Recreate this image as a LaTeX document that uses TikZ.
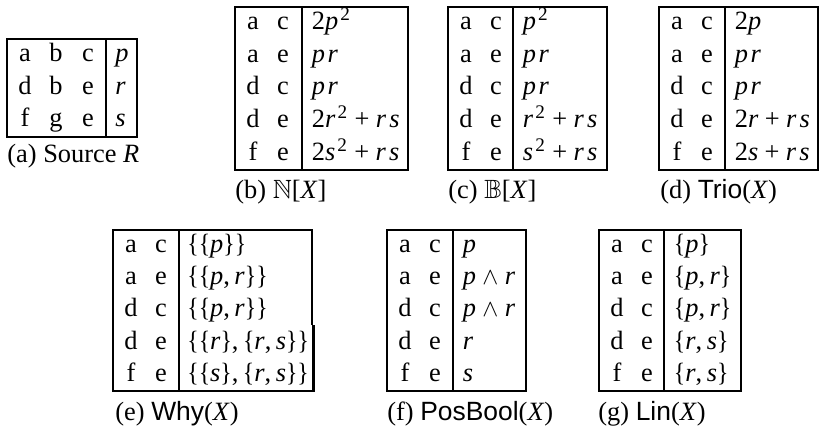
\documentclass[tikz,border=0pt]{standalone}
\usepackage{graphicx}
\usepackage{amssymb}
\usepackage{fontspec}
\setmainfont{Liberation Serif}
\setsansfont{Liberation Sans}
\newcommand\mi[1]{\textit{#1}}
\newcommand\sq{\kern.08em\raisebox{.34em}{\fontsize{9.6}{10}\selectfont 2}\kern.04em}
\newcommand\pl{\hspace{.24em}+\hspace{.24em}}
\newcommand\ww{\hspace{.24em}\(\wedge\)\hspace{.24em}}
\newcommand\cm{,\hspace{.17em}}
\newcommand\lb{\scalebox{.9}[1]{\{}}
\newcommand\rb{\scalebox{.9}[1]{\}}}
\newcommand\pr{\mi{p}\kern.1em\mi{r}}
\newcommand\rs{\mi{r}\kern.12em\mi{s}}
\newcommand\trow[8]{%
  \node[cell] (#1a) at (#3,#2) {#6};
  \node[cell] (#1b) at (#4,#2) {#7};
  \node[val] (#1v) at (#5,#2) {#8};}
\begin{document}
\begin{tikzpicture}[x=0.5pt,y=-0.5pt,
  every node/.style={inner sep=0pt,font=\fontsize{13.2}{16}\selectfont},
  frame/.style={line width=1.1pt},
  cell/.style={anchor=base},
  val/.style={anchor=base west},
  captxt/.style={anchor=base west}]
\useasboundingbox (0,0) rectangle (819,427);
% ---------- (a) ----------
\draw[frame] (7,39) rectangle (137,137);
\draw[frame] (106,39) -- (106,137);
\node[cell] (a1a) at (25,62) {a}; \node[cell] (a1b) at (56,62) {b}; \node[cell] (a1c) at (88,62) {c}; \node[val] (a1v) at (115,62) {\mi{p}};
\node[cell] (a2a) at (25,94.5) {d}; \node[cell] (a2b) at (56,94.5) {b}; \node[cell] (a2c) at (88,94.5) {e}; \node[val] (a2v) at (115,94.5) {\mi{r}};
\node[cell] (a3a) at (25,127) {f}; \node[cell] (a3b) at (56,127) {g}; \node[cell] (a3c) at (88,127) {e}; \node[val] (a3v) at (115,127) {\mi{s}};
\node[captxt] (capa) at (7,163) {(a) Source \mi{R}};
% ---------- (b) ----------
\draw[frame] (235,7) rectangle (408,170);
\draw[frame] (302,7) -- (302,170);
\trow{b1}{29.8}{253}{283}{311.5}{a}{c}{2\mi{p}\sq}
\trow{b2}{62.4}{253}{283}{311.5}{a}{e}{\pr}
\trow{b3}{95}{253}{283}{311.5}{d}{c}{\pr}
\trow{b4}{127.6}{253}{283}{311.5}{d}{e}{2\mi{r}\sq\pl\rs}
\trow{b5}{160.2}{253}{283}{311.5}{f}{e}{2\mi{s}\sq\pl\rs}
\node[captxt] (capb) at (235,199) {(b) \(\mathbb{N}\)[\mi{X}\/]};
% ---------- (c) ----------
\draw[frame] (448,7) rectangle (607,170);
\draw[frame] (513,7) -- (513,170);
\trow{c1}{29.8}{466}{496}{522.5}{a}{c}{\mi{p}\sq}
\trow{c2}{62.4}{466}{496}{522.5}{a}{e}{\pr}
\trow{c3}{95}{466}{496}{522.5}{d}{c}{\pr}
\trow{c4}{127.6}{466}{496}{522.5}{d}{e}{\mi{r}\sq\pl\rs}
\trow{c5}{160.2}{466}{496}{522.5}{f}{e}{\mi{s}\sq\pl\rs}
\node[captxt] (capc) at (448,199) {(c) \(\mathbb{B}\)[\mi{X}\/]};
% ---------- (d) ----------
\draw[frame] (659,7) rectangle (818,170);
\draw[frame] (725,7) -- (725,170);
\trow{d1}{29.8}{677}{707}{734.5}{a}{c}{2\mi{p}}
\trow{d2}{62.4}{677}{707}{734.5}{a}{e}{\pr}
\trow{d3}{95}{677}{707}{734.5}{d}{c}{\pr}
\trow{d4}{127.6}{677}{707}{734.5}{d}{e}{2\mi{r}\pl\rs}
\trow{d5}{160.2}{677}{707}{734.5}{f}{e}{2\mi{s}\pl\rs}
\node[captxt] (capd) at (660,199) {(d) \textsf{Trio}(\mi{X}\/)};
% ---------- (e) ----------
\draw[frame] (312,325) -- (312,230) -- (113,230) -- (113,391) -- (313.5,391) -- (313.5,325);
\draw[frame] (179,230) -- (179,391);
\trow{e1}{252.5}{131}{161}{187}{a}{c}{\lb\lb\mi{p}\rb\rb}
\trow{e2}{284.7}{131}{161}{187}{a}{e}{\lb\lb\mi{p}\cm\mi{r}\rb\rb}
\trow{e3}{316.9}{131}{161}{187}{d}{c}{\lb\lb\mi{p}\cm\mi{r}\rb\rb}
\trow{e4}{349.1}{131}{161}{187}{d}{e}{\lb\lb\mi{r}\rb\cm\lb\mi{r}\cm\mi{s}\rb\rb}
\trow{e5}{381.3}{131}{161}{187}{f}{e}{\lb\lb\mi{s}\rb\cm\lb\mi{r}\cm\mi{s}\rb\rb}
\node[captxt] (cape) at (115,420) {(e) \textsf{Why}(\mi{X}\/)};
% ---------- (f) ----------
\draw[frame] (387,230) rectangle (526,391);
\draw[frame] (453,230) -- (453,391);
\trow{f1}{252.5}{405}{435}{462.5}{a}{c}{\mi{p}}
\trow{f2}{284.7}{405}{435}{462.5}{a}{e}{\mi{p}\ww\mi{r}}
\trow{f3}{316.9}{405}{435}{462.5}{d}{c}{\mi{p}\ww\mi{r}}
\trow{f4}{349.1}{405}{435}{462.5}{d}{e}{\mi{r}}
\trow{f5}{381.3}{405}{435}{462.5}{f}{e}{\mi{s}}
\node[captxt] (capf) at (387,420) {(f) \textsf{PosBool}(\mi{X}\/)};
% ---------- (g) ----------
\draw[frame] (599,230) rectangle (741,391);
\draw[frame] (664,230) -- (664,391);
\trow{g1}{252.5}{617}{647}{673.5}{a}{c}{\lb\mi{p}\rb}
\trow{g2}{284.7}{617}{647}{673.5}{a}{e}{\lb\mi{p}\cm\mi{r}\rb}
\trow{g3}{316.9}{617}{647}{673.5}{d}{c}{\lb\mi{p}\cm\mi{r}\rb}
\trow{g4}{349.1}{617}{647}{673.5}{d}{e}{\lb\mi{r}\cm\mi{s}\rb}
\trow{g5}{381.3}{617}{647}{673.5}{f}{e}{\lb\mi{r}\cm\mi{s}\rb}
\node[captxt] (capg) at (598,420) {(g) \textsf{Lin}(\mi{X}\/)};
\end{tikzpicture}
\end{document}
